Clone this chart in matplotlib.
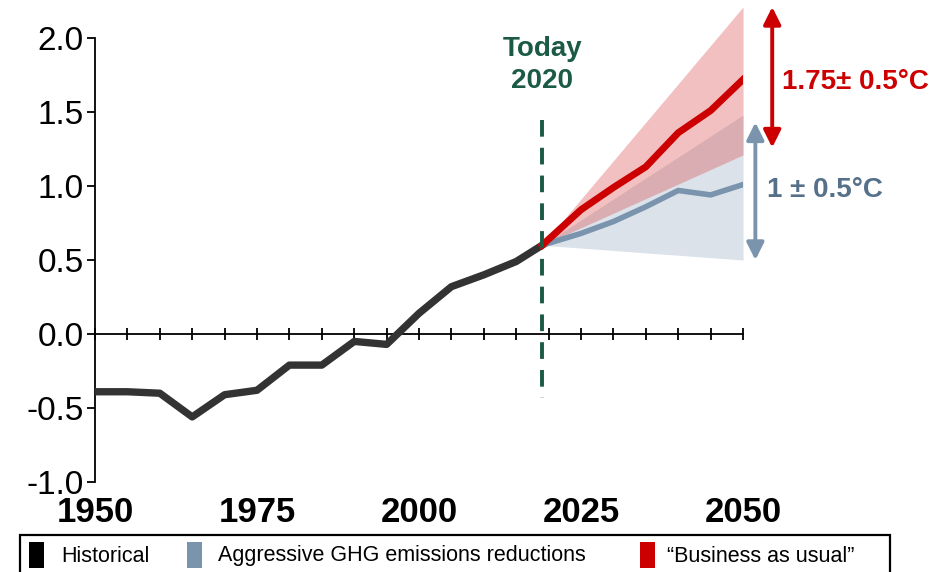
import matplotlib
matplotlib.use("Agg")
import matplotlib.pyplot as plt
from matplotlib.patches import Rectangle

plt.rcParams['font.family'] = ['Liberation Sans', 'DejaVu Sans']
plt.rcParams['lines.scale_dashes'] = False

# ─── Data ──────────────────────────────────────────────────────────────────────
hist_years = [1950, 1955, 1960, 1965, 1970, 1975, 1980, 1985, 1990, 1995,
              2000, 2005, 2010, 2015, 2019]
hist_vals = [-0.39, -0.39, -0.40, -0.56, -0.41, -0.38, -0.21, -0.21, -0.05, -0.07,
             0.14, 0.32, 0.40, 0.49, 0.60]

proj_years = [2019, 2025, 2030, 2035, 2040, 2045, 2050]
bau_vals = [0.60, 0.84, 0.99, 1.13, 1.36, 1.51, 1.72]
ghg_vals = [0.60, 0.68, 0.76, 0.86, 0.97, 0.94, 1.01]

band_years = [2019, 2050]
bau_low, bau_high = [0.60, 1.21], [0.60, 2.21]
ghg_low, ghg_high = [0.60, 0.50], [0.60, 1.48]

year_labels = [1950, 1975, 2000, 2025, 2050]
y_ticks = [-1.0, -0.5, 0.0, 0.5, 1.0, 1.5, 2.0]

legend_labels = ["Historical", "Aggressive GHG emissions reductions",
                 "\u201cBusiness as usual\u201d"]

# ─── Colours ───────────────────────────────────────────────────────────────────
C_HIST = "#333333"
C_BAU = "#cc0000"
C_GHG = "#7a94ae"
C_GHG_TXT = "#56708a"
C_TODAY = "#1b5a44"
legend_colors = ["black", C_GHG, C_BAU]

W, H = 935, 572
fig = plt.figure(figsize=(W / 100, H / 100), dpi=100)
ax = fig.add_axes([0.1016, 0.1573, 0.6931, 0.7762])

# bands
ax.fill_between(band_years, ghg_low, ghg_high, color="#8aa2bc", alpha=0.3, lw=0, clip_on=False)
ax.fill_between(band_years, bau_low, bau_high, color="#da4b4b", alpha=0.35, lw=0, clip_on=False)

# lines
ax.plot(hist_years, hist_vals, color=C_HIST, lw=5.3, zorder=4)
ax.plot(proj_years, ghg_vals, color=C_GHG, lw=4, zorder=4)
ax.plot(proj_years, bau_vals, color=C_BAU, lw=5, zorder=5)

# today marker (drawn top-down so dashes start at the top)
ax.plot([2019, 2019], [1.445, -0.43], color=C_TODAY, lw=2.8,
        linestyle=(0, (12, 8)), zorder=6, clip_on=False)
ax.text(2019, 1.82, "Today\n2020", color=C_TODAY, fontsize=20, fontweight="bold",
        ha="center", va="center", linespacing=1.3)

# range arrows
ax.annotate("", xy=(2054.5, 2.21), xytext=(2054.5, 1.26),
            arrowprops=dict(arrowstyle="<|-|>", color=C_BAU, lw=2.8,
                            mutation_scale=26, shrinkA=0, shrinkB=0),
            annotation_clip=False)
ax.text(2056.0, 1.70, "1.75\u00b1 0.5\u00b0C", color=C_BAU, fontsize=20,
        fontweight="bold", ha="left", va="center", clip_on=False)
ax.annotate("", xy=(2051.9, 1.43), xytext=(2051.9, 0.50),
            arrowprops=dict(arrowstyle="<|-|>", color=C_GHG, lw=2.8,
                            mutation_scale=26, shrinkA=0, shrinkB=0),
            annotation_clip=False)
ax.text(2053.7, 0.97, "1 \u00b1 0.5\u00b0C", color=C_GHG_TXT, fontsize=20,
        fontweight="bold", ha="left", va="center", clip_on=False)

# axes styling
ax.set_xlim(1950, 2050)
ax.set_ylim(-1.0, 2.0)
for s in ["top", "right"]:
    ax.spines[s].set_visible(False)
ax.spines["bottom"].set_position(("data", 0))
ax.spines["left"].set_linewidth(1.3)
ax.spines["bottom"].set_linewidth(1.3)
ax.set_xticks(range(1950, 2051, 5))
ax.tick_params(axis="x", direction="inout", length=9, width=1.3, labelbottom=False)
ax.set_yticks(y_ticks)
ax.set_yticklabels([f"{v:.1f}" for v in y_ticks])
ax.tick_params(axis="y", direction="out", length=6, width=1.3, pad=2, labelsize=24)

# year labels under the plot
for yr in year_labels:
    ax.text(yr, -0.069, str(yr), transform=ax.get_xaxis_transform(),
            ha="center", va="center", fontsize=25, fontweight="bold")

# ── legend box (laid out by hand, pixel positions, cut by the figure edge) ──
def fx(px):
    return px / W


def fy(py):
    return 1 - py / H


fig.add_artist(Rectangle((fx(20), fy(575)), fx(890) - fx(20), fy(535) - fy(575),
                         transform=fig.transFigure, facecolor="white",
                         edgecolor="black", lw=1.6, clip_on=False))
patch_x = [29, 187, 640]
text_x = [61, 218, 667]
for px, tx, lab, col in zip(patch_x, text_x, legend_labels, legend_colors):
    fig.add_artist(Rectangle((fx(px), fy(568)), fx(px + 15) - fx(px), fy(542) - fy(568),
                             transform=fig.transFigure, facecolor=col, lw=0))
    fig.text(fx(tx), fy(556), lab, fontsize=15.5, ha="left", va="center")

fig.savefig("out.png", dpi=100)
